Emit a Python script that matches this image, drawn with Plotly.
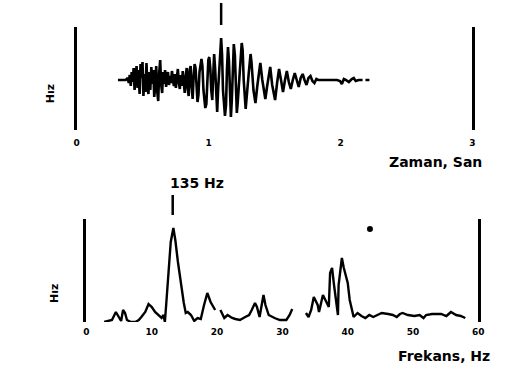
import plotly.graph_objects as go

# ---- Top panel: time record (Zaman, San) ----
time_s = [0.313, 0.372, 0.387, 0.395, 0.402, 0.410, 0.417, 0.424, 0.432, 0.439,
          0.447, 0.454, 0.462, 0.469, 0.477, 0.484, 0.491, 0.499, 0.506, 0.514,
          0.521, 0.529, 0.536, 0.544, 0.551, 0.558, 0.566, 0.573, 0.581, 0.588,
          0.596, 0.603, 0.611, 0.618, 0.625, 0.633, 0.640, 0.648, 0.655, 0.663,
          0.670, 0.678, 0.685, 0.692, 0.700, 0.707, 0.715, 0.722, 0.730, 0.737,
          0.745, 0.752, 0.760, 0.767, 0.774, 0.782, 0.789, 0.797, 0.804, 0.812,
          0.819, 0.827, 0.834, 0.841, 0.849, 0.856, 0.864, 0.871, 0.879, 0.886,
          0.894, 0.901, 0.908, 0.916, 0.923, 0.931, 0.946, 0.953, 0.961, 0.975,
          0.983, 0.990, 0.998, 1.005, 1.013, 1.020, 1.028, 1.035, 1.042, 1.050,
          1.057, 1.065, 1.072, 1.087, 1.095, 1.102, 1.109, 1.124, 1.132, 1.139,
          1.147, 1.154, 1.162, 1.169, 1.176, 1.184, 1.191, 1.199, 1.206, 1.214,
          1.221, 1.236, 1.251, 1.258, 1.266, 1.281, 1.288, 1.303, 1.318, 1.325,
          1.340, 1.355, 1.370, 1.385, 1.392, 1.407, 1.430, 1.445, 1.459, 1.467,
          1.482, 1.504, 1.519, 1.534, 1.549, 1.564, 1.579, 1.593, 1.608, 1.623,
          1.638, 1.653, 1.668, 1.683, 1.698, 1.713, 1.727, 1.742, 1.757, 1.772,
          1.787, 1.802, 1.817, 1.832, 1.973, 1.996, 2.010, 2.025, 2.040, 2.063,
          2.085, 2.100, 2.115, 2.137, 2.167, 2.178, 2.189, 2.219]
velocity = [0, 0, 2, -3, 5, -6, 8, -2, 12, -10,
            4, 14, -8, 10, -14, 16, 2, 18, -16, 6,
            -12, 17, -6, -14, 8, -10, 13, -4, 10, -17,
            -5, 14, -12, -21, 6, 20, -4, -13, 8, -4,
            10, -7, 3, 8, -5, 4, -3, 9, 0, -6,
            6, -8, 3, 11, -2, -9, 5, -6, 9, -2,
            -13, 4, 12, -8, -16, 10, 14, -6, -19, 2,
            16, 12, -10, -22, -15, 8, 21, 14, -10, -28,
            -24, 4, 20, 23, 12, -10, -20, 5, 26, 10,
            -20, -32, -10, 30, 42, 25, -10, -36, -25, 10,
            33, 20, -15, -37, -20, 15, 36, 25, -10, -33,
            -22, 10, 37, 30, 0, -29, -20, 5, 26, 18,
            -10, -23, -5, 10, 17, 0, -19, -5, 10, 13,
            -5, -20, -3, 11, 0, -12, 0, 9, -2, -9,
            0, 7, 0, -7, 2, 6, 0, -5, 2, 4,
            -1, -3, 1, 0, 0, -1, -4, 1, 0, -2,
            1, 2, -1, 0, 0, None, 0, 0]
time_ticks = [0, 1, 2, 3]
marker_time = 1.095

# ---- Bottom panel: spectrum (Frekans, Hz) ----
freq_hz = [2.7, 3.5, 3.9, 4.5, 4.8, 5.3, 5.6, 5.9, 6.2, 6.8,
           7.5, 8.0, 8.4, 9.0, 9.5, 10.0, 10.5, 11.0, 11.5, 11.8,
           12.0, 12.2, 12.5, 12.9, 13.3, 13.6, 14.0, 14.5, 14.9, 15.2,
           15.5, 16.0, 16.5, 17.0, 17.5, 18.0, 18.5, 19.0, 19.7, 20.1,
           20.5, 21.1, 21.6, 22.3, 22.8, 23.5, 24.3, 24.9, 25.3, 25.8,
           26.1, 26.5, 27.1, 27.4, 27.9, 28.4, 28.8, 29.6, 30.6, 31.1,
           31.5, 32.5, 33.6, 34.0, 34.4, 34.8, 35.4, 35.6, 36.2, 36.8,
           37.1, 37.3, 37.6, 37.9, 38.2, 38.5, 38.6, 39.1, 39.4, 40.0,
           40.3, 40.7, 40.9, 41.5, 42.1, 42.7, 43.3, 43.9, 44.6, 45.2,
           46.2, 46.9, 47.5, 48.0, 48.4, 49.2, 50.2, 51.0, 51.6, 52.0,
           52.9, 54.3, 55.1, 55.8, 56.6, 57.3, 58.0]
amplitude = [3, 4, 5, 13, 10, 4, 15, 12, 5, 3,
             3, 5, 8, 13, 21, 18, 13, 10, 7, 10,
             3, 20, 50, 83, 97, 85, 63, 37, 22, 12,
             13, 10, 4, 7, 6, 20, 32, 23, 15, None,
             15, 7, 10, 7, 6, 5, 8, 10, 15, 22,
             18, 8, 30, 20, 10, 8, 7, 5, 5, 10,
             16, None, 12, 8, 15, 28, 20, 13, 30, 22,
             18, 52, 57, 40, 23, 10, 40, 67, 57, 42,
             25, 13, 8, 12, 9, 7, 10, 8, 10, 12,
             11, 10, 8, 11, 12, 10, 9, 10, 7, 10,
             11, 11, 9, 13, 10, 9, 7]
freq_ticks = [0, 10, 20, 30, 40, 50, 60]
peak_freq = 13.2
peak_label = "135 Hz"
dot_freq = [43.4]
dot_amp = [96]

W, H = 505, 376


def px(x):
    return x / W


def py(y):
    return 1 - y / H


fig = go.Figure()
fig.add_trace(go.Scatter(x=time_s, y=velocity, mode="lines",
                         line=dict(color="black", width=2.6),
                         connectgaps=False,
                         xaxis="x", yaxis="y", showlegend=False))
fig.add_trace(go.Scatter(x=freq_hz, y=amplitude, mode="lines",
                         line=dict(color="black", width=2.4),
                         connectgaps=False,
                         xaxis="x2", yaxis="y2", showlegend=False))
fig.add_trace(go.Scatter(x=dot_freq, y=dot_amp, mode="markers",
                         marker=dict(color="black", size=6),
                         xaxis="x2", yaxis="y2", showlegend=False,
                         cliponaxis=False))

tickfont = dict(family="DejaVu Sans", size=9, color="black", weight="bold")

fig.update_layout(
    autosize=True, height=H,
    margin=dict(l=0, r=0, t=0, b=0),
    paper_bgcolor="white", plot_bgcolor="white",
    xaxis=dict(domain=[px(75), px(478)], range=[0, 3], anchor="y",
               tickvals=time_ticks, ticks="", showgrid=False, zeroline=False,
               showline=False, tickfont=tickfont, ticklabelstandoff=6),
    yaxis=dict(domain=[py(130), py(27)], range=[-50, 53], anchor="x",
               showgrid=False, zeroline=False, showticklabels=False,
               showline=True, mirror=True, linecolor="black", linewidth=2.5),
    xaxis2=dict(domain=[px(85), px(484)], range=[0, 60], anchor="y2",
                tickvals=freq_ticks, ticks="", showgrid=False, zeroline=False,
                showline=False, tickfont=tickfont, ticklabelstandoff=3),
    yaxis2=dict(domain=[py(322), py(219)], range=[3, 106], anchor="x2",
                showgrid=False, zeroline=False, showticklabels=False,
                showline=True, mirror=True, linecolor="black", linewidth=2.5),
)

# marker ticks above the records
fig.add_shape(type="line", xref="x", yref="paper", x0=marker_time, x1=marker_time,
              y0=py(25), y1=py(3), line=dict(color="black", width=2.5))
fig.add_shape(type="line", xref="x2", yref="paper", x0=peak_freq, x1=peak_freq,
              y0=py(215), y1=py(195), line=dict(color="black", width=2.5))

labfont = dict(family="DejaVu Sans", size=14, color="black", weight="bold")


def label(x, y, text, font, angle=0):
    fig.add_annotation(x=px(x), y=py(y), xref="paper", yref="paper",
                       xanchor="center", yanchor="middle", text=text,
                       textangle=angle, showarrow=False, font=font)


label(440, 162, "Zaman, San", labfont)
label(449, 356, "Frekans, Hz", labfont)
label(198, 183, peak_label, labfont)
yfont = dict(family="DejaVu Sans", size=11, color="black", weight="bold")
label(48, 94, "Hız", yfont, -90)
label(52, 294, "Hız", yfont, -90)

css_js = (
    "document.documentElement.style.margin='0';"
    "document.documentElement.style.padding='0';"
    "document.documentElement.style.overflow='hidden';"
    "document.body.style.margin='0';"
    "document.body.style.padding='0';"
    "document.body.style.overflow='hidden';"
    "window.dispatchEvent(new Event('resize'));"
)
fig.write_html("out.html", config={"displayModeBar": False, "responsive": True},
               default_width="100%", default_height=f"{H}px",
               post_script=css_js)
